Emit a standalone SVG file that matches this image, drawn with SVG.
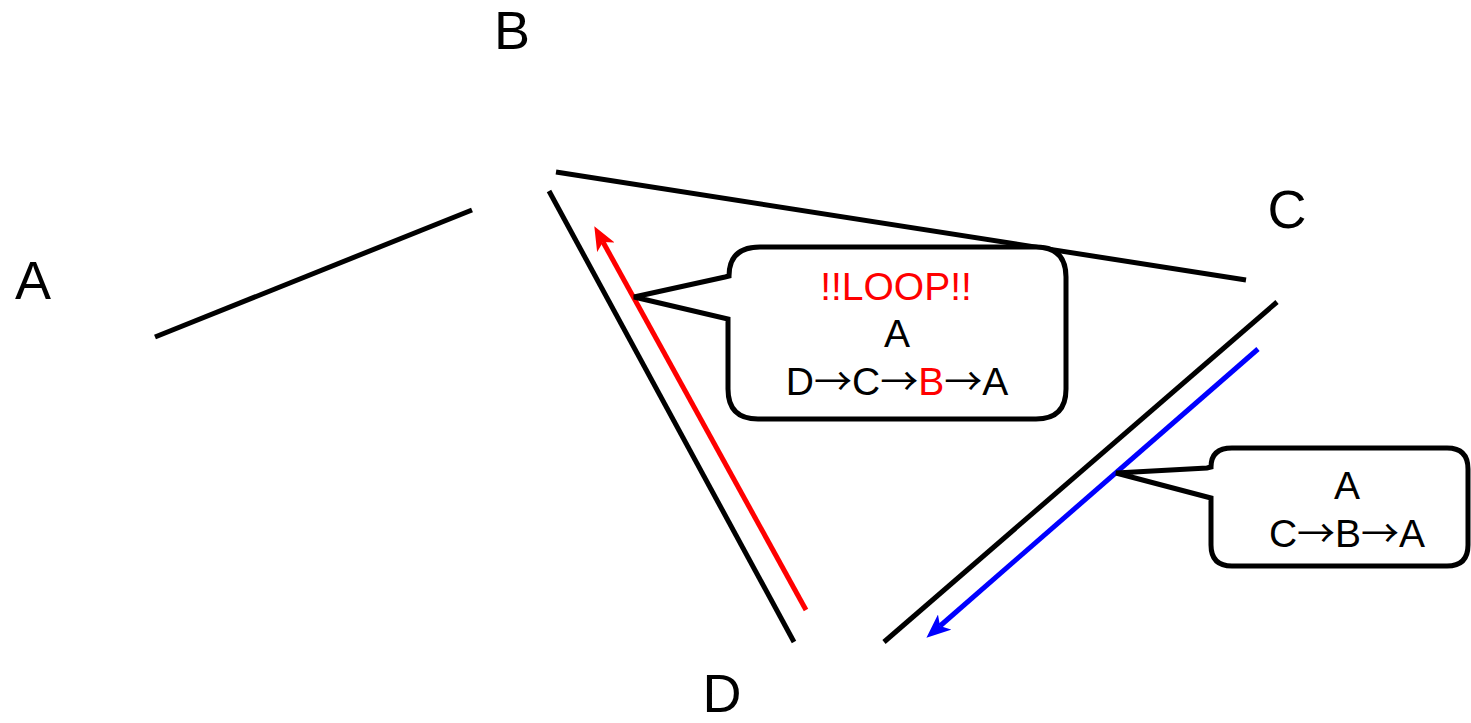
<svg xmlns="http://www.w3.org/2000/svg" width="1471" height="723" viewBox="0 0 1471 723">
<style>
.lbl{font-family:"Liberation Sans",Arial,sans-serif;font-size:54px;fill:#000;text-anchor:middle}
.txt{font-family:"Liberation Sans",Arial,sans-serif;font-size:39px;fill:#000;text-anchor:middle}
.arr{font-family:"Noto Sans CJK JP","DejaVu Sans",sans-serif;font-size:38px}
.red{fill:#ff0000}
.edge{stroke:#000;stroke-width:5;fill:none}
.box{stroke:#000;stroke-width:5;fill:#fff;stroke-linejoin:miter}
</style>
<defs>
<marker id="ahRed" markerUnits="userSpaceOnUse" viewBox="0 0 24 20" refX="6" refY="10" markerWidth="24" markerHeight="20" orient="auto">
<path d="M0,0 L24,10 L0,20 L6,10 z" fill="#ff0000"/>
</marker>
<marker id="ahBlue" markerUnits="userSpaceOnUse" viewBox="0 0 24 20" refX="6" refY="10" markerWidth="24" markerHeight="20" orient="auto">
<path d="M0,0 L24,10 L0,20 L6,10 z" fill="#0000ff"/>
</marker>
</defs>
<rect width="1471" height="723" fill="#fff"/>
<g id="connectors">
<line class="edge" x1="155" y1="337" x2="472" y2="210"/>
<line class="edge" x1="556" y1="172" x2="1246" y2="280"/>
<line class="edge" x1="549" y1="191" x2="794" y2="642"/>
<line class="edge" x1="1277" y1="302" x2="884" y2="642"/>
<line x1="806" y1="610" x2="603" y2="242" stroke="#ff0000" stroke-width="5" marker-end="url(#ahRed)"/>
<line x1="1258" y1="349" x2="940" y2="626" stroke="#0000ff" stroke-width="5" marker-end="url(#ahBlue)"/>
</g>
<g id="node-A"><text class="lbl" x="33" y="299">A</text></g>
<g id="node-B"><text class="lbl" x="512" y="49">B</text></g>
<g id="node-C"><text class="lbl" x="1287" y="228">C</text></g>
<g id="node-D"><text class="lbl" x="722" y="712">D</text></g>
<g id="callout-loop">
<path class="box" d="M634,297 L725,277 L729,276 Q729,247 760,247 L1036,247 Q1066,247 1066,277 L1066,389 Q1066,419 1036,419 L758,419 Q728,419 728,389 L728,319 Z"/>
<text class="txt red" x="896" y="300">!!LOOP!!</text>
<text class="txt" x="897" y="347">A</text>
<text class="txt" x="897" y="395">D<tspan class="arr">→</tspan>C<tspan class="arr">→</tspan><tspan class="red">B</tspan><tspan class="arr">→</tspan>A</text>
</g>
<g id="callout-path">
<path class="box" d="M1116,473 L1207,468 L1211,467 Q1211,448 1232,448 L1447,448 Q1468,448 1468,469 L1468,545 Q1468,566 1447,566 L1232,566 Q1211,566 1211,545 L1211,498 Z"/>
<text class="txt" x="1347" y="499">A</text>
<text class="txt" x="1347" y="547">C<tspan class="arr">→</tspan>B<tspan class="arr">→</tspan>A</text>
</g>
</svg>
